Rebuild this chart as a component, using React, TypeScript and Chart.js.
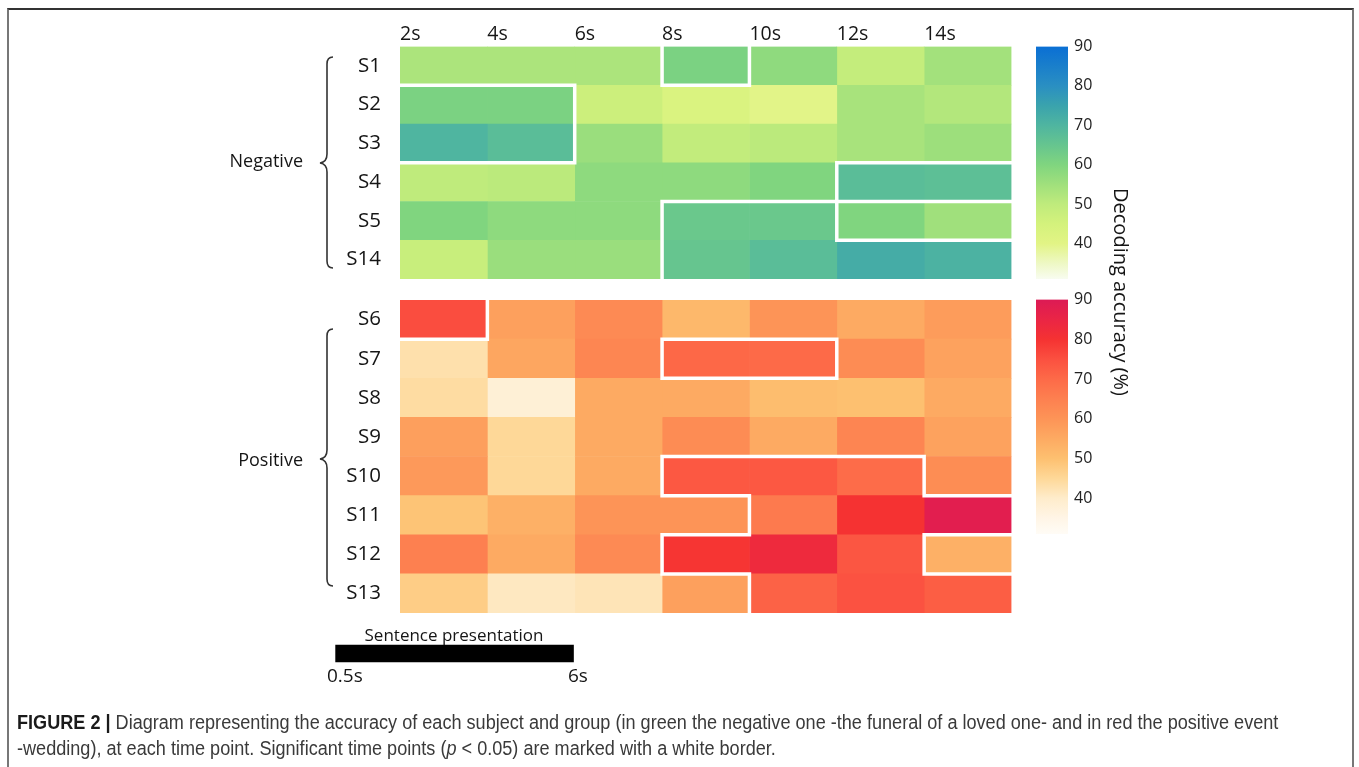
import React, { useEffect, useLayoutEffect, useRef } from 'react';
import { Chart, registerables } from 'chart.js';

Chart.register(...registerables);

// ---------------- data ----------------
const times = ['2s', '4s', '6s', '8s', '10s', '12s', '14s'];
const negativeSubjects = ['S1', 'S2', 'S3', 'S4', 'S5', 'S14'];
const positiveSubjects = ['S6', 'S7', 'S8', 'S9', 'S10', 'S11', 'S12', 'S13'];

// decoding accuracy (%) per subject (rows) and time point (columns)
const negativeAccuracy = [
  [53, 53, 53, 61, 57.7, 48.8, 54.5],
  [61, 61, 46.9, 43, 39.8, 53.7, 52],
  [70, 67.6, 56, 49.3, 50.6, 53.7, 55.5],
  [50, 50.6, 57.8, 57.8, 60, 67.6, 67],
  [60, 57.8, 57.8, 64.2, 64.2, 60, 55],
  [47.9, 56, 56, 65, 67.6, 72.4, 70.7],
];
const positiveAccuracy = [
  [75.5, 57.3, 62.5, 51.8, 60, 55, 58.2],
  [43, 56, 63.5, 70.4, 70, 62, 56.8],
  [44, 38, 55, 55, 50.7, 50, 55],
  [57.5, 45, 55, 62, 55, 63.8, 56.8],
  [58.8, 45, 55, 73.5, 73.5, 69.5, 61.8],
  [49.2, 53.6, 60, 60, 66.4, 80, 88],
  [65, 55, 62.5, 79.5, 83, 73.8, 53.6],
  [47.3, 41, 42, 57.3, 71.5, 74.6, 72.3],
];

// significant time points (p < 0.05)
const negativeSignificant = [
  [0, 0, 0, 1, 0, 0, 0],
  [1, 1, 0, 0, 0, 0, 0],
  [1, 1, 0, 0, 0, 0, 0],
  [0, 0, 0, 0, 0, 1, 1],
  [0, 0, 0, 1, 1, 0, 0],
  [0, 0, 0, 1, 1, 1, 1],
];
const positiveSignificant = [
  [1, 0, 0, 0, 0, 0, 0],
  [0, 0, 0, 1, 1, 0, 0],
  [0, 0, 0, 0, 0, 0, 0],
  [0, 0, 0, 0, 0, 0, 0],
  [0, 0, 0, 1, 1, 1, 0],
  [0, 0, 0, 0, 1, 1, 1],
  [0, 0, 0, 1, 1, 1, 0],
  [0, 0, 0, 0, 1, 1, 1],
];

// colour maps: [value, colour]
const greenScale: [number, string][] = [
  [31, '#f8fcf0'], [35, '#eef8c4'], [40, '#e2f485'], [45, '#d4f27c'], [50, '#bfeb7c'],
  [55, '#a0e07c'], [60, '#80d57f'], [65, '#66c58f'], [70, '#4fb5a0'], [75, '#3aa3ad'],
  [80, '#2a8fc2'], [90, '#0a6fd4'],
];
const redScale: [number, string][] = [
  [31, '#fffcf6'], [35, '#fff5e6'], [40, '#feeccb'], [45, '#fed898'], [50, '#fdc070'],
  [55, '#fdaa62'], [60, '#fd9457'], [65, '#fd8050'], [70, '#fd6a48'], [75, '#fb5040'],
  [80, '#f53232'], [85, '#ea2545'], [90, '#dc1a55'],
];
const colorbarMin = 31;
const colorbarMax = 90;
const colorbarTicks = [40, 50, 60, 70, 80, 90];

// sentence presentation interval (seconds)
const sentenceInterval = [0.5, 6];
const timelineMax = 16;

// ---------------- helpers ----------------
const FONT = "'Open Sans', 'Noto Sans', sans-serif";
const TEXT = '#151515';

function hexToRgb(h: string) {
  const n = parseInt(h.slice(1), 16);
  return [(n >> 16) & 255, (n >> 8) & 255, n & 255];
}
function colorAt(stops: [number, string][], v: number) {
  if (v <= stops[0][0]) return stops[0][1];
  for (let i = 1; i < stops.length; i++) {
    if (v <= stops[i][0]) {
      const [v0, c0] = stops[i - 1];
      const [v1, c1] = stops[i];
      const t = (v - v0) / (v1 - v0);
      const a = hexToRgb(c0);
      const b = hexToRgb(c1);
      const m = a.map((x, k) => Math.round(x + (b[k] - x) * t));
      return `rgb(${m[0]},${m[1]},${m[2]})`;
    }
  }
  return stops[stops.length - 1][1];
}

// white border between significant and non-significant cells (inner edges only)
const sigPlugin = (sig: number[][]) => ({
  id: 'sigBorders',
  afterDatasetsDraw(chart: any) {
    const { ctx, scales } = chart;
    const x = scales.x;
    const y = scales.y;
    const h = Math.abs(y.getPixelForValue(1) - y.getPixelForValue(0));
    const nRows = sig.length;
    const nCols = sig[0].length;
    const on = (i: number, j: number) => sig[i][j] === 1;
    ctx.save();
    ctx.strokeStyle = '#ffffff';
    ctx.lineWidth = 3.5;
    ctx.lineCap = 'square';
    ctx.beginPath();
    for (let i = 0; i < nRows; i++) {
      for (let j = 0; j < nCols; j++) {
        if (!on(i, j)) continue;
        const cy = y.getPixelForValue(i);
        const top = cy - h / 2;
        const bottom = cy + h / 2;
        const left = x.getPixelForValue(j);
        const right = x.getPixelForValue(j + 1);
        if (i > 0 && !on(i - 1, j)) { ctx.moveTo(left, top); ctx.lineTo(right, top); }
        if (i < nRows - 1 && !on(i + 1, j)) { ctx.moveTo(left, bottom); ctx.lineTo(right, bottom); }
        if (j > 0 && !on(i, j - 1)) { ctx.moveTo(left, top); ctx.lineTo(left, bottom); }
        if (j < nCols - 1 && !on(i, j + 1)) { ctx.moveTo(right, top); ctx.lineTo(right, bottom); }
      }
    }
    ctx.stroke();
    ctx.restore();
  },
});

function heatmapConfig(
  rows: string[],
  values: number[][],
  sig: number[][],
  stops: [number, string][],
  showX: boolean,
  padTop: number
): any {
  const xScale: any = {
    type: 'linear',
    position: 'top',
    min: 0,
    max: times.length,
    display: showX,
    grid: { display: false, drawTicks: false },
    border: { display: false },
    ticks: {
      stepSize: 1,
      autoSkip: false,
      maxRotation: 0,
      minRotation: 0,
      align: 'start',
      padding: 0,
      font: { family: FONT, size: 19.5 },
      color: TEXT,
      callback: (v: number) => times[v] ?? '',
    },
  };
  if (showX) {
    xScale.afterFit = (ax: any) => {
      ax.height = 36.5;
      ax.paddingLeft = 0;
      ax.paddingRight = 0;
    };
  }
  return {
    type: 'bar',
    data: {
      labels: rows,
      datasets: times.map((t, j) => ({
        label: t,
        data: rows.map(() => [j, j + 1]),
        backgroundColor: values.map((r) => colorAt(stops, r[j])),
        borderWidth: 0,
        barPercentage: 1,
        categoryPercentage: 1,
        grouped: false,
      })),
    },
    options: {
      indexAxis: 'y',
      responsive: false,
      animation: false,
      layout: { padding: { top: padTop, right: 8.5, bottom: 4, left: 0 } },
      plugins: { legend: { display: false }, tooltip: { enabled: false } },
      scales: {
        x: xScale,
        y: {
          type: 'category',
          grid: { display: false, drawTicks: false },
          border: { display: false },
          ticks: { padding: 19, font: { family: FONT, size: 20.5 }, color: TEXT },
          afterFit: (ax: any) => {
            ax.width = 70;
            ax.paddingTop = 0;
            ax.paddingBottom = 0;
          },
        },
      },
    },
    plugins: [sigPlugin(sig)],
  };
}

function colorbarConfig(stops: [number, string][]): any {
  return {
    type: 'bar',
    data: {
      labels: [''],
      datasets: [
        {
          data: [[colorbarMin, colorbarMax]],
          backgroundColor: (c: any) => {
            const chart = c.chart;
            if (!chart.chartArea) return stops[0][1];
            const ys = chart.scales.y;
            const top = ys.getPixelForValue(colorbarMax);
            const bottom = ys.getPixelForValue(colorbarMin);
            const g = chart.ctx.createLinearGradient(0, bottom, 0, top);
            stops.forEach(([v, col]) =>
              g.addColorStop((v - colorbarMin) / (colorbarMax - colorbarMin), col)
            );
            return g;
          },
          borderWidth: 0,
          barPercentage: 1,
          categoryPercentage: 1,
        },
      ],
    },
    options: {
      responsive: false,
      animation: false,
      layout: { padding: { left: 6, top: 16.5, bottom: 17, right: 0 } },
      plugins: { legend: { display: false }, tooltip: { enabled: false } },
      scales: {
        x: { display: false },
        y: {
          position: 'right',
          min: colorbarMin,
          max: colorbarMax,
          grid: { display: false, drawTicks: false },
          border: { display: false },
          ticks: { padding: 6, font: { family: FONT, size: 16 }, color: '#222' },
          afterBuildTicks: (ax: any) => {
            ax.ticks = colorbarTicks.map((v) => ({ value: v }));
          },
          afterFit: (ax: any) => {
            ax.width = 42;
            ax.paddingTop = 0;
            ax.paddingBottom = 0;
          },
        },
      },
    },
  };
}

function sentenceConfig(): any {
  return {
    type: 'bar',
    data: {
      labels: ['Sentence presentation'],
      datasets: [
        {
          data: [sentenceInterval],
          backgroundColor: '#000000',
          borderWidth: 0,
          barThickness: 17,
        },
      ],
    },
    options: {
      indexAxis: 'y',
      responsive: false,
      animation: false,
      layout: { padding: 0 },
      plugins: { legend: { display: false }, tooltip: { enabled: false } },
      scales: {
        x: { type: 'linear', display: false, min: 0, max: timelineMax },
        y: { display: false },
      },
    },
  };
}

function ChartBox(props: { left: number; top: number; width: number; height: number; make: () => any }) {
  const ref = useRef<HTMLCanvasElement>(null);
  useEffect(() => {
    const chart = new Chart(ref.current as HTMLCanvasElement, props.make());
    return () => chart.destroy();
  }, []);
  return (
    <div style={{ position: 'absolute', left: props.left, top: props.top, width: props.width, height: props.height }}>
      <canvas ref={ref} width={props.width} height={props.height} style={{ display: 'block', width: props.width, height: props.height }} />
    </div>
  );
}

const label = (extra: React.CSSProperties): React.CSSProperties => ({
  position: 'absolute',
  fontFamily: FONT,
  color: TEXT,
  lineHeight: 1,
  whiteSpace: 'nowrap',
  ...extra,
});

export default function App() {
  const line1 = useRef<HTMLDivElement>(null);
  const line2 = useRef<HTMLDivElement>(null);

  useLayoutEffect(() => {
    const a = line1.current;
    const b = line2.current;
    if (!a || !b) return;
    const w = a.scrollWidth;
    const k = w > 0 ? 1261 / w : 1;
    a.style.transform = `scaleX(${k})`;
    b.style.transform = `scaleX(${k})`;
  }, []);

  return (
    <div style={{ position: 'absolute', left: 0, top: 0, width: 1359, height: 767, overflow: 'hidden', background: '#fff' }}>
      <div style={{ position: 'absolute', left: 7, top: 8, width: 1343, height: 800, borderTop: '2px solid #333', borderLeft: '2px solid #777', borderRight: '2px solid #777' }} />

      <ChartBox left={330} top={10} width={690} height={273} make={() => heatmapConfig(negativeSubjects, negativeAccuracy, negativeSignificant, greenScale, true, 0)} />
      <ChartBox left={330} top={290} width={690} height={327} make={() => heatmapConfig(positiveSubjects, positiveAccuracy, positiveSignificant, redScale, false, 10)} />
      <ChartBox left={1030} top={30} width={80} height={266} make={() => colorbarConfig(greenScale)} />
      <ChartBox left={1030} top={283} width={80} height={268} make={() => colorbarConfig(redScale)} />
      <ChartBox left={314} top={640} width={692} height={27} make={sentenceConfig} />

      <svg width={1359} height={767} style={{ position: 'absolute', left: 0, top: 0, pointerEvents: 'none' }}>
        <path d="M 333 57 Q 327 57 327 64 L 327 154 Q 327 162 320 163 Q 327 164 327 172 L 327 261 Q 327 268 333 268" fill="none" stroke="#333" strokeWidth={1.6} />
        <path d="M 333 329 Q 327 329 327 336 L 327 450 Q 327 458 320 459 Q 327 460 327 468 L 327 579 Q 327 586 333 586" fill="none" stroke="#333" strokeWidth={1.6} />
      </svg>

      <div style={label({ right: 1359 - 303, top: 160, fontSize: 18, transform: 'translateY(-50%)' })}>Negative</div>
      <div style={label({ right: 1359 - 303, top: 459, fontSize: 18, transform: 'translateY(-50%)' })}>Positive</div>

      <div style={label({ left: 1121, top: 292, fontSize: 20, transform: 'translate(-50%, -50%) rotate(90deg)' })}>Decoding accuracy (%)</div>

      <div style={label({ left: 454, top: 634, fontSize: 17, transform: 'translate(-50%, -50%)' })}>Sentence presentation</div>
      <div style={label({ left: 327, top: 675, fontSize: 19, transform: 'translateY(-50%)' })}>0.5s</div>
      <div style={label({ left: 568, top: 675, fontSize: 19, transform: 'translateY(-50%)' })}>6s</div>

      <div style={{ position: 'absolute', left: 17, top: 709, fontFamily: "'Liberation Sans', Arial, sans-serif", fontSize: 19.5, lineHeight: '26px', color: '#3a3a3a' }}>
        <div ref={line1} style={{ whiteSpace: 'nowrap', transformOrigin: 'left center', display: 'inline-block' }}>
          <b style={{ color: '#1a1a1a' }}>FIGURE 2 |</b> Diagram representing the accuracy of each subject and group (in green the negative one -the funeral of a loved one- and in red the positive event
        </div>
        <br />
        <div ref={line2} style={{ whiteSpace: 'nowrap', transformOrigin: 'left center', display: 'inline-block' }}>
          -wedding), at each time point. Significant time points (<i>p</i> &lt; 0.05) are marked with a white border.
        </div>
      </div>
    </div>
  );
}
